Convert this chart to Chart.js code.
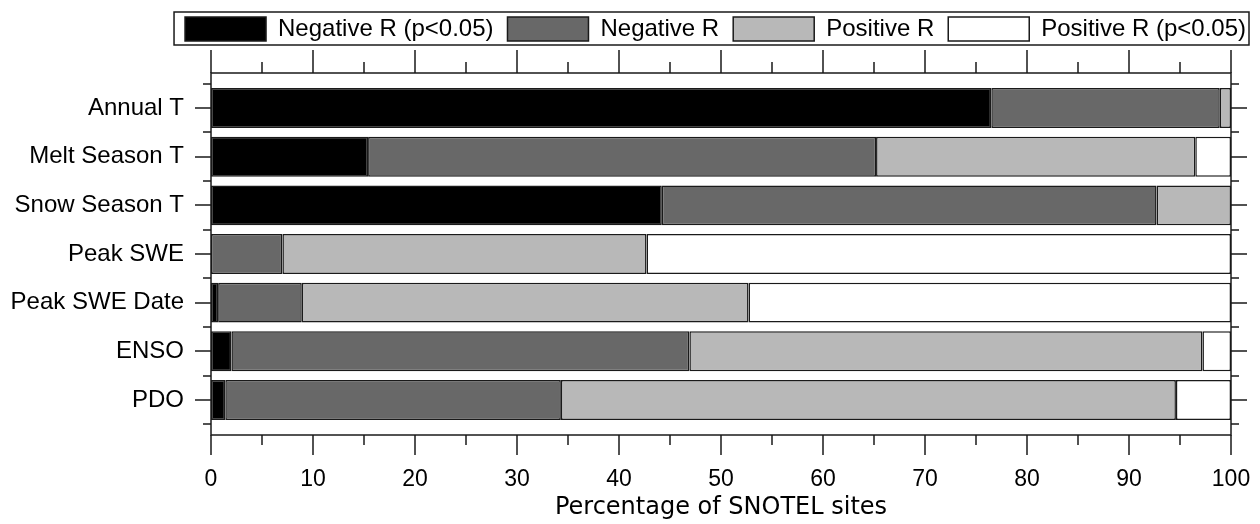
<!DOCTYPE html>
<html>
<head>
<meta charset="utf-8">
<script src="https://cdn.jsdelivr.net/npm/chart.js@4"></script>
<style>
  html, body { margin: 0; padding: 0; background: #fff; }
  #wrap { width: 1260px; height: 524px; }
</style>
</head>
<body>
<div id="wrap"><canvas id="chart"></canvas></div>
<script>
const categories = ['Annual T', 'Melt Season T', 'Snow Season T', 'Peak SWE', 'Peak SWE Date', 'ENSO', 'PDO'];
const negSig = [76.5, 15.4, 44.2, 0, 0.7, 2.0, 1.4];
const negR = [22.4, 49.8, 48.5, 7.0, 8.2, 44.9, 32.9];
const posR = [1.1, 31.3, 7.3, 35.7, 43.8, 50.3, 60.3];
const posSig = [0, 3.5, 0, 57.3, 47.3, 2.8, 5.4];
const xTicks = [0, 10, 20, 30, 40, 50, 60, 70, 80, 90, 100];

const font = 'Liberation Sans, Arial, sans-serif';

// frame, tick marks on all four sides, box round the legend
const framePlugin = {
    id: 'frame',
    afterDraw(chart) {
        const ctx = chart.ctx;
        const a = chart.chartArea;
        const x = chart.scales.x;
        const y = chart.scales.y;
        ctx.save();
        ctx.strokeStyle = '#1a1a1a';
        ctx.lineWidth = 1.5;
        ctx.strokeRect(a.left, a.top, a.right - a.left, a.bottom - a.top);
        ctx.beginPath();
        for (let v = 0; v <= 100; v += 5) {
            const px = Math.round(x.getPixelForValue(v));
            const major = v % 10 === 0;
            ctx.moveTo(px, a.top);
            ctx.lineTo(px, a.top - (major ? 23 : 11));
            ctx.moveTo(px, a.bottom);
            ctx.lineTo(px, a.bottom + (major ? 20 : 10));
        }
        for (let i = 0; i < categories.length; i++) {
            const py = Math.round(y.getPixelForValue(i));
            ctx.moveTo(a.left, py);
            ctx.lineTo(a.left - 16, py);
            ctx.moveTo(a.right, py);
            ctx.lineTo(a.right + 16, py);
        }
        for (let i = 0; i <= categories.length; i++) {
            const py = Math.round(y.getPixelForValue(i - 0.5));
            ctx.moveTo(a.left, py);
            ctx.lineTo(a.left - 8, py);
            ctx.moveTo(a.right, py);
            ctx.lineTo(a.right + 8, py);
        }
        ctx.stroke();

        const lg = chart.legend;
        const boxes = lg.legendHitBoxes;
        if (boxes && boxes.length) {
            const first = boxes[0];
            const last = boxes[boxes.length - 1];
            const l = first.left - 11;
            const r = last.left + last.width + 3;
            const t = first.top - 5;
            const b = first.top + first.height + 4;
            ctx.strokeRect(l, t, r - l, b - t);
        }
        ctx.restore();
    }
};

new Chart(document.getElementById('chart').getContext('2d'), {
    type: 'bar',
    data: {
        labels: categories.map((c, i) => i),
        datasets: [
            { label: 'Negative R (p<0.05)', data: negSig, backgroundColor: '#000000' },
            { label: 'Negative R', data: negR, backgroundColor: '#686868' },
            { label: 'Positive R', data: posR, backgroundColor: '#b8b8b8' },
            { label: 'Positive R (p<0.05)', data: posSig, backgroundColor: '#ffffff' }
        ].map(d => Object.assign(d, {
            borderColor: '#1a1a1a',
            borderWidth: 1.5,
            borderSkipped: false,
            barPercentage: 0.82,
            categoryPercentage: 1
        }))
    },
    options: {
        indexAxis: 'y',
        responsive: true,
        maintainAspectRatio: false,
        animation: false,
        layout: { padding: { top: 3, left: 0, right: 0, bottom: 0 } },
        plugins: {
            tooltip: { enabled: false },
            legend: {
                position: 'top',
                align: 'end',
                labels: {
                    boxWidth: 81,
                    boxHeight: 24,
                    padding: 14,
                    color: '#000',
                    font: { family: font, size: 24 }
                }
            }
        },
        scales: {
            x: {
                type: 'linear',
                position: 'bottom',
                stacked: true,
                min: 0,
                max: 100,
                offset: false,
                afterBuildTicks: s => { s.ticks = xTicks.map(v => ({ value: v })); },
                afterFit: s => { s.height = 89; s.paddingLeft = 0; s.paddingRight = 0; },
                grid: { display: false, drawTicks: false },
                border: { display: false },
                ticks: { padding: 31, color: '#000', maxRotation: 0, font: { family: font, size: 23 } },
                title: {
                    display: true,
                    text: 'Percentage of SNOTEL sites',
                    color: '#000',
                    padding: { top: 0, bottom: 2 },
                    font: { family: 'DejaVu Sans, sans-serif', size: 24 }
                }
            },
            x2: {
                type: 'linear',
                position: 'top',
                min: 0,
                max: 100,
                afterFit: s => { s.height = 22; s.paddingLeft = 0; s.paddingRight = 0; },
                grid: { display: false, drawTicks: false },
                border: { display: false },
                ticks: { display: false }
            },
            y: {
                type: 'linear',
                position: 'left',
                stacked: true,
                reverse: true,
                offset: false,
                min: -0.72,
                max: 6.72,
                afterBuildTicks: s => { s.ticks = categories.map((c, i) => ({ value: i })); },
                afterFit: s => { s.width = 211; s.paddingTop = 0; s.paddingBottom = 0; },
                grid: { display: false, drawTicks: false },
                border: { display: false },
                ticks: {
                    padding: 27,
                    color: '#000',
                    font: { family: font, size: 24 },
                    callback: v => categories[v]
                }
            },
            y2: {
                type: 'linear',
                position: 'right',
                reverse: true,
                offset: false,
                min: -0.72,
                max: 6.72,
                afterFit: s => { s.width = 29; s.paddingTop = 0; s.paddingBottom = 0; },
                grid: { display: false, drawTicks: false },
                border: { display: false },
                ticks: { display: false }
            }
        }
    },
    plugins: [framePlugin]
});
</script>
</body>
</html>
